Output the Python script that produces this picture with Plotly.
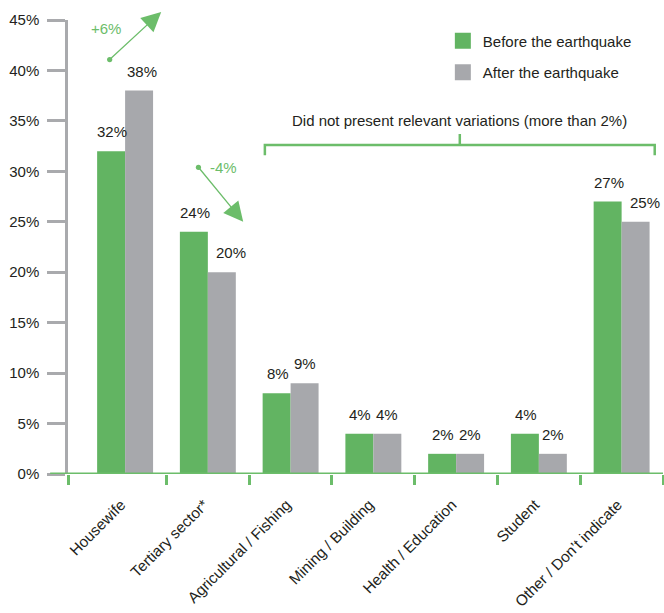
import plotly.graph_objects as go

categories = ["Housewife", "Tertiary sector*", "Agricultural / Fishing", "Mining / Building",
              "Health / Education", "Student", "Other / Don\u2019t indicate"]
before = [32, 24, 8, 4, 2, 4, 27]
after = [38, 20, 9, 4, 2, 2, 25]
y_ticks = [0, 5, 10, 15, 20, 25, 30, 35, 40, 45]
y_ticktext = [f"{v}%" for v in y_ticks]

GREEN = "#62b462"
GREY = "#a7a8ac"
AXIS_GREEN = "#6cbd6a"
AXIS_GREY = "#a9aaad"
TXT = "#231f20"
FONT = "Liberation Sans, Arial, sans-serif"

W = 0.338          # width of one bar (category units)
XMIN = -0.69
XMAX = 6.5
YMAX = 45
idx = list(range(len(categories)))
# pixel nudges of "after" value labels (to avoid crowding), keyed by category index
AFTER_LABEL_NUDGE = {0: 3, 1: 9, 6: 9}

fig = go.Figure()
fig.add_trace(go.Bar(x=idx, y=before, width=W, offset=-W, marker=dict(color=GREEN, line=dict(width=0)),
                     showlegend=False, hoverinfo="skip"))
fig.add_trace(go.Bar(x=idx, y=after, width=W, offset=0, marker=dict(color=GREY, line=dict(width=0)),
                     showlegend=False, hoverinfo="skip"))
# legend entries
fig.add_trace(go.Scatter(x=[None], y=[None], mode="markers", name="Before the earthquake",
                         marker=dict(symbol="square", size=18, color=GREEN), legendgroup="a"))
fig.add_trace(go.Scatter(x=[None], y=[None], mode="markers", name="After the earthquake",
                         marker=dict(symbol="square", size=18, color=GREY), legendgroup="b"))

annotations = []
for i, (b, a) in enumerate(zip(before, after)):
    annotations.append(dict(x=i - W / 2, y=b, text=f"{b}%", showarrow=False, yanchor="bottom",
                            yshift=9, xshift=1, font=dict(size=15, color=TXT, family=FONT)))
    annotations.append(dict(x=i + W / 2, y=a, text=f"{a}%", showarrow=False, yanchor="bottom",
                            yshift=9, xshift=AFTER_LABEL_NUDGE.get(i, 0),
                            font=dict(size=15, color=TXT, family=FONT)))

# +6% arrow (head above the plot area -> paper y)
annotations.append(dict(x=0.436, y=45.8 / YMAX, xref="x", yref="paper", ax=-53, ay=49, text="",
                        showarrow=True, arrowhead=2, arrowsize=3.0, arrowwidth=1.3, arrowcolor=AXIS_GREEN,
                        arrowside="end+start", startarrowhead=6, startarrowsize=1.0))
annotations.append(dict(x=-0.228, y=44.2, text="+6%", showarrow=False,
                        font=dict(size=15, color=AXIS_GREEN, family=FONT)))
# -4% arrow
annotations.append(dict(x=1.427, y=25.0, ax=-46, ay=-56, text="", showarrow=True,
                        arrowhead=2, arrowsize=3.0, arrowwidth=1.3, arrowcolor=AXIS_GREEN,
                        arrowside="end+start", startarrowhead=6, startarrowsize=1.0))
annotations.append(dict(x=1.185, y=30.4, text="-4%", showarrow=False,
                        font=dict(size=15, color=AXIS_GREEN, family=FONT)))

# bracket
bx0, bx1 = 1.689, 6.40
bmid = (bx0 + bx1) / 2
annotations.append(dict(x=bmid, y=35.0, text="Did not present relevant variations (more than 2%)",
                        showarrow=False, font=dict(size=15, color=TXT, family=FONT)))

shapes = [
    dict(type="path", xref="x", yref="y",
         path=f"M{bx0},31.6 L{bx0},32.6 L{bx1},32.6 L{bx1},31.6",
         line=dict(color=AXIS_GREEN, width=2.5)),
    dict(type="line", xref="x", yref="y", x0=bmid, x1=bmid, y0=32.6, y1=33.7,
         line=dict(color=AXIS_GREEN, width=2.5)),
    dict(type="line", xref="paper", yref="y", x0=-0.03, x1=1.0, y0=0, y1=0,
         line=dict(color=AXIS_GREEN, width=3), layer="above"),
]

boundaries = [XMIN] + [i + 0.5 for i in idx]

fig.update_layout(
    width=664, height=613,
    margin=dict(l=68, r=1, t=20, b=139),
    paper_bgcolor="white", plot_bgcolor="white",
    barmode="overlay",
    font=dict(family=FONT, size=15, color=TXT),
    annotations=annotations,
    shapes=shapes,
    legend=dict(x=0.63, y=0.99, xanchor="left", yanchor="top", font=dict(size=15, color=TXT),
                tracegroupgap=9, bgcolor="rgba(0,0,0,0)"),
    xaxis=dict(range=[XMIN, XMAX], tickmode="array", tickvals=idx, ticktext=categories,
               tickangle=-45, ticks="", showgrid=False, zeroline=False, showline=False,
               automargin=False,
               tickfont=dict(size=15.3, color=TXT), ticklabelstandoff=18, ticklabelshift=-4,
               minor=dict(tickmode="array", tickvals=boundaries, ticks="outside", ticklen=10,
                          tickwidth=2.5, tickcolor=AXIS_GREEN, showgrid=False)),
    yaxis=dict(range=[0, YMAX], tickmode="array", tickvals=y_ticks, ticktext=y_ticktext,
               ticks="outside", ticklen=18, tickwidth=2.5, tickcolor=AXIS_GREY,
               showline=True, linecolor=AXIS_GREY, linewidth=2.5, showgrid=False, zeroline=False,
               automargin=False,
               tickfont=dict(size=15, color=TXT), ticklabelstandoff=5),
)

fig.write_html("out.html")
